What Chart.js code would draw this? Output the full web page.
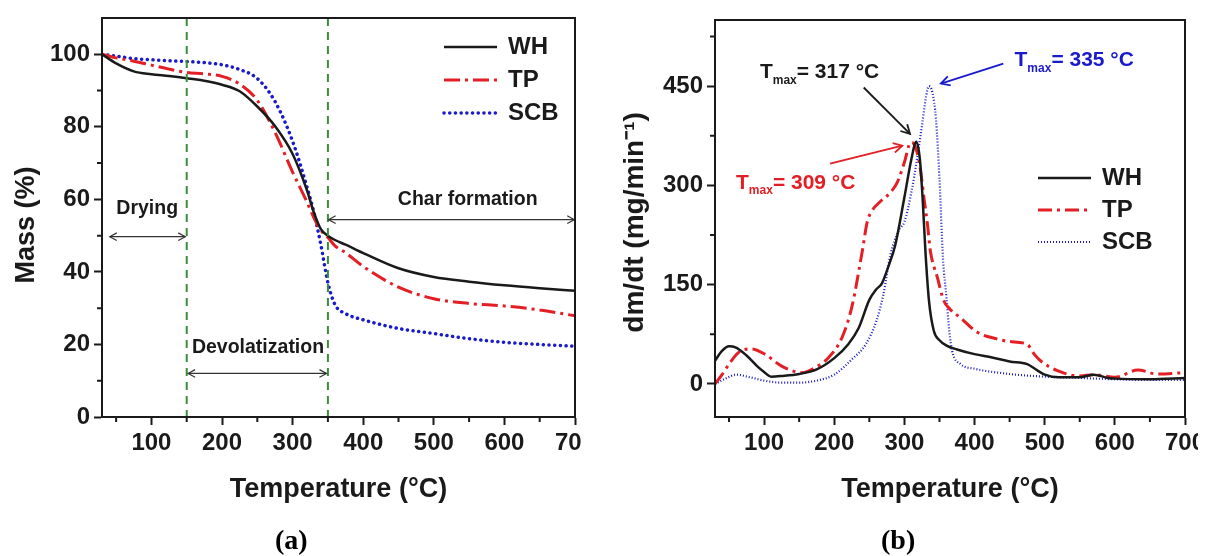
<!DOCTYPE html>
<html>
<head>
<meta charset="utf-8">
<script src="https://cdn.jsdelivr.net/npm/chart.js@4.4.0/dist/chart.umd.min.js"></script>
<style>
  body { margin: 0; background: #fff; width: 1208px; height: 556px; position: relative; overflow: hidden; }
  canvas { position: absolute; top: 0; }
  #tga { left: 0; }
  #dtg { left: 600px; }
  .cap { position: absolute; top: 526px; font: bold 28px "Liberation Serif", "Times New Roman", serif; line-height: 28px; }
</style>
</head>
<body>
<canvas id="tga" width="581" height="556"></canvas>
<canvas id="dtg" width="598" height="556"></canvas>
<div class="cap" style="left:275px">(a)</div>
<div class="cap" style="left:881px">(b)</div>
<script>
// ---- data ----
const seriesNames = ["WH", "TP", "SCB"];

// (a) mass loss, %
const tgaTemp = [30, 50, 75, 100, 125, 150, 175, 200, 225, 250, 275, 300, 320, 330, 340, 350, 360, 375, 400, 450, 500, 550, 600, 650, 700];
const tgaWH  = [100, 97.5, 95.3, 94.5, 94.0, 93.4, 92.7, 91.6, 89.8, 85.6, 80.2, 72.5, 62.7, 56.5, 51.8, 50.0, 48.8, 47.5, 45.2, 41.0, 38.6, 37.3, 36.3, 35.5, 34.8];
const tgaTP  = [100, 99.0, 98.1, 97.0, 95.9, 95.0, 94.6, 93.9, 91.8, 87.3, 78.5, 67.5, 59.4, 55.0, 51.5, 49.5, 47.2, 45.3, 41.5, 35.8, 32.6, 31.3, 30.6, 29.5, 27.9];
const tgaSCB = [100, 99.5, 98.8, 98.5, 98.2, 98.0, 97.7, 97.1, 95.8, 93.3, 87.0, 76.0, 63.6, 56.5, 47.5, 37.0, 31.0, 28.5, 26.8, 24.4, 23.0, 21.6, 20.6, 20.0, 19.5];

// (b) rate, mg/min
const dtgTempWH = [30, 40, 50, 60, 75, 90, 100, 110, 125, 150, 175, 200, 220, 235, 250, 260, 268, 278, 287, 300, 310, 317, 322, 326, 330, 335, 342, 350, 360, 375, 400, 425, 450, 475, 490, 500, 520, 550, 570, 590, 600, 650, 700];
const dtgWH     = [35, 50, 57, 55, 43, 27, 18, 11, 12, 15, 22, 39, 60, 85, 127, 143, 152, 180, 210, 282, 340, 366, 340, 280, 200, 126, 80, 66, 58, 52, 45, 40, 34, 30, 20, 14, 10, 10, 14, 9, 8, 7, 9];
const dtgTempTP = [30, 40, 50, 63, 82, 101, 125, 154, 173, 192, 211, 225, 240, 247, 254, 265, 278, 290, 300, 309, 315, 322, 328, 333, 337, 347, 356, 365, 380, 404, 432, 450, 475, 485, 494, 518, 550, 570, 600, 633, 660, 700];
const dtgTP     = [0, 14, 30, 47, 53, 45, 27, 17, 25, 40, 70, 116, 201, 245, 262, 275, 287, 305, 335, 365, 360, 330, 280, 240, 201, 161, 126, 113, 100, 78, 68, 64, 60, 45, 35, 20, 12, 14, 10, 21, 15, 17];
const dtgTempSCB = [30, 45, 60, 80, 100, 125, 150, 175, 200, 225, 245, 260, 270, 280, 292, 300, 310, 318, 325, 331, 335, 340, 345, 350, 355, 360, 364, 368, 380, 400, 450, 500, 550, 600, 650, 700];
const dtgSCB     = [0, 8, 14, 10, 5, 2, 2, 5, 14, 37, 60, 95, 135, 195, 232, 245, 290, 340, 390, 435, 450, 440, 400, 310, 190, 130, 80, 50, 30, 23, 15, 11, 9, 7, 6, 6];

const tempTicks = [100, 200, 300, 400, 500, 600, 700];
const tempMinor = [50, 150, 250, 350, 450, 550, 650];
const massTicks = [0, 20, 40, 60, 80, 100];
const massMinor = [10, 30, 50, 70, 90];
const rateTicks = [0, 150, 300, 450];
const rateMinor = [75, 225, 375, 525];

// stage annotations on (a): [label, label T, label mass, arrow from T, arrow to T, arrow mass]
const stageBounds = [150, 350];
const stages = [
  ["Drying", 94, 57.5, 41, 148, 49.7],
  ["Char formation", 548, 60, 351, 699, 54.4],
  ["Devolatization", 251, 19, 152, 348, 12]
];
// peak labels on (b): [Tmax, text T, text rate, arrow from T, rate, arrow to T, rate]
const peaks = [
  [317, 94, 471, 242, 448, 308, 378],
  [309, 60, 304, 194, 333, 297, 360],
  [335, 457, 489, 441, 484, 352, 454]
];

// ---- look ----
const INK = "#1a1a1a";
const RED = "#e31e24";
const BLUE = "#1a1acd";
const FONT = "'Liberation Sans', Arial, sans-serif";
Chart.defaults.font.family = FONT;
Chart.defaults.color = INK;

function pts(temps, vals) {
  return temps.map((t, i) => ({ x: t, y: vals[i] }));
}

function lineSet(label, data, color, width, dash, cap) {
  return {
    label: label, data: data, borderColor: color, borderWidth: width,
    borderDash: dash, borderCapStyle: cap || "butt",
    pointRadius: 0, fill: false, tension: 0.3, cubicInterpolationMode: "monotone"
  };
}

function axis(min, max, ticks, size, title, titleSize) {
  return {
    type: "linear", min: min, max: max,
    afterBuildTicks: s => { s.ticks = ticks.map(v => ({ value: v })); },
    afterFit: s => {
      if (s.isHorizontal()) { s.height = size; s.paddingLeft = 0; s.paddingRight = 0; }
      else { s.width = size; s.paddingTop = 0; s.paddingBottom = 0; }
    },
    ticks: { font: { size: 24, weight: "bold" }, color: INK, padding: 4, maxRotation: 0, autoSkip: false },
    grid: { drawOnChartArea: false, tickLength: 8, tickWidth: 2, tickColor: INK },
    border: { color: INK, width: 2 },
    title: { display: true, text: title, color: INK, font: { size: titleSize, weight: "bold" }, padding: { top: 4, bottom: 4 } }
  };
}

function head(ctx, x1, y1, x2, y2, size) {
  const a = Math.atan2(y2 - y1, x2 - x1);
  ctx.beginPath();
  ctx.moveTo(x2 - size * Math.cos(a - 0.5), y2 - size * Math.sin(a - 0.5));
  ctx.lineTo(x2, y2);
  ctx.lineTo(x2 - size * Math.cos(a + 0.5), y2 - size * Math.sin(a + 0.5));
  ctx.stroke();
}

function frame(chart, minorX, minorY) {
  const { ctx, chartArea: a, scales } = chart;
  ctx.save();
  ctx.strokeStyle = INK;
  ctx.lineWidth = 2;
  ctx.strokeRect(a.left, a.top, a.right - a.left, a.bottom - a.top);
  ctx.beginPath();
  minorX.forEach(v => {
    const x = scales.x.getPixelForValue(v);
    ctx.moveTo(x, a.bottom); ctx.lineTo(x, a.bottom + 5);
  });
  minorY.forEach(v => {
    const y = scales.y.getPixelForValue(v);
    ctx.moveTo(a.left, y); ctx.lineTo(a.left - 5, y);
  });
  ctx.stroke();
  ctx.restore();
}

function legend(chart, x0, y0, gap) {
  const { ctx, chartArea: a } = chart;
  ctx.save();
  chart.data.datasets.forEach((ds, i) => {
    const x = a.left + x0, y = a.top + y0 + i * gap;
    ctx.strokeStyle = ds.borderColor;
    ctx.lineWidth = ds.borderWidth;
    ctx.lineCap = ds.borderCapStyle;
    ctx.setLineDash(ds.borderDash);
    ctx.beginPath(); ctx.moveTo(x, y); ctx.lineTo(x + 53, y); ctx.stroke();
    ctx.setLineDash([]);
    ctx.fillStyle = INK;
    ctx.font = "bold 24px " + FONT;
    ctx.textBaseline = "middle";
    ctx.fillText(ds.label, x + 64, y);
  });
  ctx.restore();
}

const tgaDecor = {
  id: "tgaDecor",
  afterDatasetsDraw(chart) {
    const { ctx, chartArea: a, scales: { x, y } } = chart;
    ctx.save();
    ctx.strokeStyle = "#3c8c3c";
    ctx.lineWidth = 2;
    ctx.setLineDash([8, 6]);
    stageBounds.forEach(t => {
      const px = x.getPixelForValue(t);
      ctx.beginPath(); ctx.moveTo(px, a.top); ctx.lineTo(px, a.bottom); ctx.stroke();
    });
    ctx.setLineDash([]);
    ctx.strokeStyle = "#333";
    ctx.lineWidth = 1.2;
    ctx.fillStyle = INK;
    ctx.font = "bold 19.5px " + FONT;
    ctx.textAlign = "center";
    ctx.textBaseline = "middle";
    stages.forEach(s => {
      ctx.fillText(s[0], x.getPixelForValue(s[1]), y.getPixelForValue(s[2]));
      const x1 = x.getPixelForValue(s[3]), x2 = x.getPixelForValue(s[4]), py = y.getPixelForValue(s[5]);
      ctx.beginPath(); ctx.moveTo(x1, py); ctx.lineTo(x2, py); ctx.stroke();
      head(ctx, x1, py, x2, py, 8);
      head(ctx, x2, py, x1, py, 8);
    });
    ctx.restore();
    frame(chart, tempMinor, massMinor);
    legend(chart, 342, 29, 33);
  }
};

const dtgDecor = {
  id: "dtgDecor",
  afterDatasetsDraw(chart) {
    const { ctx, scales: { x, y } } = chart;
    const colors = [INK, RED, BLUE];
    ctx.save();
    ctx.textBaseline = "middle";
    peaks.forEach((p, i) => {
      ctx.fillStyle = colors[i];
      ctx.strokeStyle = colors[i];
      let tx = x.getPixelForValue(p[1]);
      const ty = y.getPixelForValue(p[2]);
      ctx.font = "bold 21px " + FONT;
      ctx.fillText("T", tx, ty);
      tx += ctx.measureText("T").width;
      ctx.font = "bold 12px " + FONT;
      ctx.fillText("max", tx, ty + 8);
      tx += ctx.measureText("max").width;
      ctx.font = "bold 21px " + FONT;
      ctx.fillText("= " + p[0] + " °C", tx, ty);
      const x1 = x.getPixelForValue(p[3]), y1 = y.getPixelForValue(p[4]);
      const x2 = x.getPixelForValue(p[5]), y2 = y.getPixelForValue(p[6]);
      ctx.lineWidth = 1.8;
      ctx.beginPath(); ctx.moveTo(x1, y1); ctx.lineTo(x2, y2); ctx.stroke();
      head(ctx, x1, y1, x2, y2, 10);
    });
    ctx.restore();
    frame(chart, tempMinor, rateMinor);
    legend(chart, 323, 158, 32);
  }
};

new Chart(document.getElementById("tga"), {
  type: "line",
  data: {
    datasets: [
      lineSet(seriesNames[0], pts(tgaTemp, tgaWH), INK, 2.5, []),
      lineSet(seriesNames[1], pts(tgaTemp, tgaTP), RED, 3, [16, 5, 3, 5]),
      lineSet(seriesNames[2], pts(tgaTemp, tgaSCB), BLUE, 3.5, [0.1, 5.6], "round")
    ]
  },
  options: {
    responsive: false,
    animation: false,
    layout: { padding: { left: 6, right: 6, top: 18, bottom: 46 } },
    plugins: { legend: { display: false }, tooltip: { enabled: false } },
    scales: {
      x: axis(30, 700, tempTicks, 93, "Temperature (°C)", 27),
      y: axis(0, 110, massTicks, 96, "Mass (%)  ", 27)
    }
  },
  plugins: [tgaDecor]
});

new Chart(document.getElementById("dtg"), {
  type: "line",
  data: {
    datasets: [
      lineSet(seriesNames[0], pts(dtgTempWH, dtgWH), INK, 2.5, []),
      lineSet(seriesNames[1], pts(dtgTempTP, dtgTP), RED, 3, [14, 5, 3, 5]),
      lineSet(seriesNames[2], pts(dtgTempSCB, dtgSCB), BLUE, 2.2, [1, 2])
    ]
  },
  options: {
    responsive: false,
    animation: false,
    layout: { padding: { left: 14, right: 13, top: 20, bottom: 46 } },
    plugins: { legend: { display: false }, tooltip: { enabled: false } },
    scales: {
      x: axis(30, 700, tempTicks, 93, "Temperature (°C)", 27),
      y: axis(-50, 550, rateTicks, 101, "dm/dt (mg/min⁻¹) ", 28)
    }
  },
  plugins: [dtgDecor]
});
</script>
</body>
</html>
